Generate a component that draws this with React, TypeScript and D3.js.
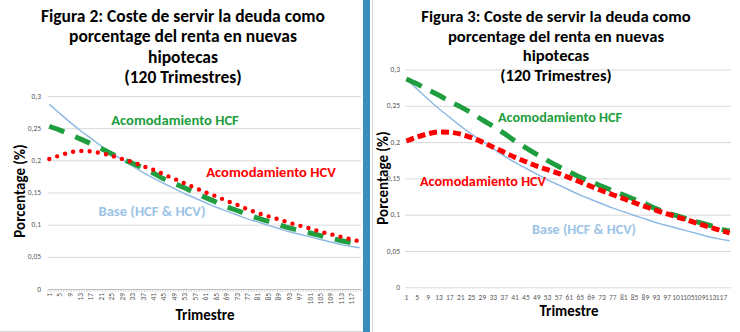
import React from 'react';
import * as d3 from 'd3';

// Categories: trimesters 1..120
const trimestres: number[] = d3.range(1, 121);
const sampleT = [1, 5, 9, 13, 17, 21, 25, 29, 33, 37, 41, 45, 49, 53, 57, 61, 65, 69, 73, 77, 81, 85, 89, 93, 97, 101, 105, 109, 113, 117, 120];
const xTickLabels = ['1', '5', '9', '13', '17', '21', '25', '29', '33', '37', '41', '45', '49', '53', '57', '61', '65', '69', '73', '77', '81', '85', '89', '93', '97', '101', '105', '109', '113', '117'];
const yTicks = [0, 0.05, 0.1, 0.15, 0.2, 0.25, 0.3];
const yTickLabels = ['0', '0,05', '0,1', '0,15', '0,2', '0,25', '0,3'];

// Figura 2
const baseL = [0.287, 0.273, 0.259, 0.246, 0.234, 0.222, 0.211, 0.201, 0.191, 0.181, 0.172, 0.164, 0.156, 0.148, 0.141, 0.134, 0.127, 0.121, 0.115, 0.109, 0.104, 0.099, 0.094, 0.089, 0.085, 0.081, 0.077, 0.073, 0.069, 0.066, 0.064];
const hcfL = [0.253, 0.247, 0.240, 0.233, 0.226, 0.218, 0.210, 0.202, 0.195, 0.188, 0.180, 0.171, 0.164, 0.157, 0.149, 0.142, 0.135, 0.128, 0.122, 0.116, 0.110, 0.105, 0.100, 0.095, 0.091, 0.087, 0.083, 0.079, 0.075, 0.072, 0.070];
const hcvL = [0.202, 0.2075, 0.2125, 0.2147, 0.214, 0.211, 0.207, 0.202, 0.197, 0.191, 0.185, 0.178, 0.171, 0.164, 0.157, 0.150, 0.144, 0.137, 0.131, 0.124, 0.118, 0.113, 0.108, 0.103, 0.0985, 0.094, 0.089, 0.085, 0.081, 0.077, 0.074];

// Figura 3
const baseR = [0.287, 0.273, 0.259, 0.246, 0.234, 0.222, 0.211, 0.201, 0.191, 0.181, 0.172, 0.164, 0.156, 0.148, 0.141, 0.134, 0.127, 0.121, 0.115, 0.109, 0.104, 0.099, 0.094, 0.089, 0.085, 0.081, 0.077, 0.073, 0.069, 0.066, 0.064];
const hcfR = [0.287, 0.280, 0.272, 0.2645, 0.256, 0.2485, 0.240, 0.2305, 0.2215, 0.212, 0.2015, 0.192, 0.183, 0.1745, 0.1665, 0.159, 0.1515, 0.1455, 0.139, 0.133, 0.127, 0.121, 0.115, 0.108, 0.1025, 0.098, 0.0935, 0.089, 0.085, 0.080, 0.0775];
const hcvR = [0.2015, 0.207, 0.2115, 0.214, 0.2135, 0.211, 0.206, 0.200, 0.193, 0.186, 0.179, 0.173, 0.167, 0.162, 0.157, 0.151, 0.145, 0.139, 0.133, 0.1275, 0.122, 0.1165, 0.111, 0.106, 0.101, 0.0965, 0.092, 0.087, 0.0825, 0.078, 0.075];

const FONT = 'Carlito, Calibri, Lato, sans-serif';
const GREEN = '#1e9e3e';
const RED = '#ff0000';
const BLUE = '#8fbbe3';
const BLUE_TXT = '#9dc3e6';

type Label = { text: string; x: number; y: number; color: string; weight: number };
type PanelProps = {
  x0: number; x1: number; yTop: number; yBot: number;
  title: string[]; titleX: number; titleY: number[]; titleSize: number;
  yLabelPos: [number, number]; xLabelPos: [number, number];
  tickRight: number; rotatedTicks: boolean; tickY: number;
  base: number[]; hcf: number[]; hcv: number[];
  hcfDash: string; hcvDash: string; hcvCap: 'round' | 'butt'; hcvWidth: number;
  labels: Label[]; labelSize: number;
};

function Panel(p: PanelProps) {
  const x = d3.scaleBand<string>().domain(trimestres.map(String)).range([p.x0, p.x1]).padding(0);
  const y = d3.scaleLinear().domain([0, 0.3]).range([p.yBot, p.yTop]);
  const bw = x.bandwidth();
  const cx = (t: number) => (x(String(t)) as number) + bw / 2;
  const line = d3.line<[number, number]>().x(d => cx(d[0])).y(d => y(d[1])).curve(d3.curveMonotoneX);
  const pts = (vals: number[]) => sampleT.map((t, i) => [t, vals[i]] as [number, number]);
  return (
    <g>
      {yTicks.map((v, i) => (
        <g key={'g' + i}>
          <line x1={p.x0} x2={p.x1} y1={y(v) + 0.5} y2={y(v) + 0.5} stroke="#d9d9d9" strokeWidth={1} />
          <text x={p.tickRight} y={y(v) + 2.5} textAnchor="end" fontSize={7.5} fill="#595959" fontFamily={FONT}>{yTickLabels[i]}</text>
        </g>
      ))}
      {p.rotatedTicks && (
        <g>
          <line x1={p.x0} x2={p.x1} y1={p.yBot + 0.5} y2={p.yBot + 0.5} stroke="#bfbfbf" />
          {trimestres.concat([121]).map((t, i) => {
            const xx = i < 120 ? (x(String(t)) as number) : p.x1;
            return <line key={'t' + i} x1={xx} x2={xx} y1={p.yBot} y2={p.yBot + 3} stroke="#bfbfbf" strokeWidth={0.6} />;
          })}
        </g>
      )}
      {xTickLabels.map((lab, i) => {
        const t = +lab;
        return p.rotatedTicks ? (
          <text key={'x' + i} transform={`translate(${cx(t) + 2.4},${p.tickY}) rotate(-90)`} textAnchor="end" fontSize={7.5} fill="#595959" fontFamily={FONT}>{lab}</text>
        ) : (
          <text key={'x' + i} x={cx(t)} y={p.tickY} textAnchor="middle" fontSize={7.5} fill="#595959" fontFamily={FONT}>{lab}</text>
        );
      })}
      <path d={line(pts(p.base)) || ''} fill="none" stroke={BLUE} strokeWidth={1.5} />
      <path d={line(pts(p.hcf)) || ''} fill="none" stroke={GREEN} strokeWidth={5} strokeDasharray={p.hcfDash} />
      <path d={line(pts(p.hcv)) || ''} fill="none" stroke={RED} strokeWidth={p.hcvWidth} strokeDasharray={p.hcvDash} strokeLinecap={p.hcvCap} />
      {p.title.map((t, i) => (
        <text key={'ti' + i} x={p.titleX} y={p.titleY[i]} textAnchor="middle" fontSize={p.titleSize} fontWeight={700} fill="#000" fontFamily={FONT}>{t}</text>
      ))}
      <text transform={`translate(${p.yLabelPos[0]},${p.yLabelPos[1]}) rotate(-90)`} textAnchor="middle" fontSize={15} fontWeight={700} fill="#000" fontFamily={FONT}>Porcentage (%)</text>
      <text x={p.xLabelPos[0]} y={p.xLabelPos[1]} textAnchor="middle" fontSize={15} fontWeight={700} fill="#000" fontFamily={FONT}>Trimestre</text>
      {p.labels.map((l, i) => (
        <text key={'l' + i} x={l.x} y={l.y} textAnchor="middle" fontSize={p.labelSize} fontWeight={l.weight} fill={l.color} fontFamily={FONT}>{l.text}</text>
      ))}
    </g>
  );
}

export default function App() {
  const titles = (n: number) => [
    `Figura ${n}: Coste de servir la deuda como`,
    'porcentage del renta en nuevas',
    'hipotecas',
    '(120 Trimestres)',
  ];
  return (
    <svg width={740} height={332} style={{ position: 'absolute', left: 0, top: 0, background: '#fff' }}>
      <rect x={0} y={0} width={740} height={332} fill="#fff" />
      <Panel
        x0={48} x1={361} yTop={96} yBot={289}
        title={titles(2)} titleX={183} titleY={[22, 42, 62.5, 83]} titleSize={17.5}
        yLabelPos={[25, 191]} xLabelPos={[205, 320]}
        tickRight={41} rotatedTicks={true} tickY={293}
        base={baseL} hcf={hcfL} hcv={hcvL}
        hcfDash="16 12" hcvDash="0 8.3" hcvCap="round" hcvWidth={4.4}
        labels={[
          { text: 'Acomodamiento HCF', x: 175, y: 124.5, color: GREEN, weight: 700 },
          { text: 'Acomodamiento HCV', x: 271, y: 176.5, color: RED, weight: 700 },
          { text: 'Base (HCF & HCV)', x: 152, y: 215.5, color: BLUE_TXT, weight: 700 },
        ]}
        labelSize={14.6}
      />
      <Panel
        x0={405} x1={731} yTop={69.5} yBot={287.3}
        title={titles(3)} titleX={556} titleY={[22, 41.5, 61, 80.5]} titleSize={16.6}
        yLabelPos={[388, 178]} xLabelPos={[569, 316]}
        tickRight={400} rotatedTicks={false} tickY={300}
        base={baseR} hcf={hcfR} hcv={hcvR}
        hcfDash="17 10" hcvDash="8 4" hcvCap="butt" hcvWidth={5}
        labels={[
          { text: 'Acomodamiento HCF', x: 560, y: 122, color: GREEN, weight: 700 },
          { text: 'Acomodamiento HCV', x: 483, y: 186, color: RED, weight: 700 },
          { text: 'Base (HCF & HCV)', x: 584, y: 234, color: BLUE_TXT, weight: 700 },
        ]}
        labelSize={14.2}
      />
      <rect x={363} y={0} width={7} height={332} fill="#3b8cba" />
      <line x1={372.5} x2={372.5} y1={0} y2={332} stroke="#d9d9d9" />
      <line x1={0} x2={363} y1={331.5} y2={331.5} stroke="#d9d9d9" />
    </svg>
  );
}
